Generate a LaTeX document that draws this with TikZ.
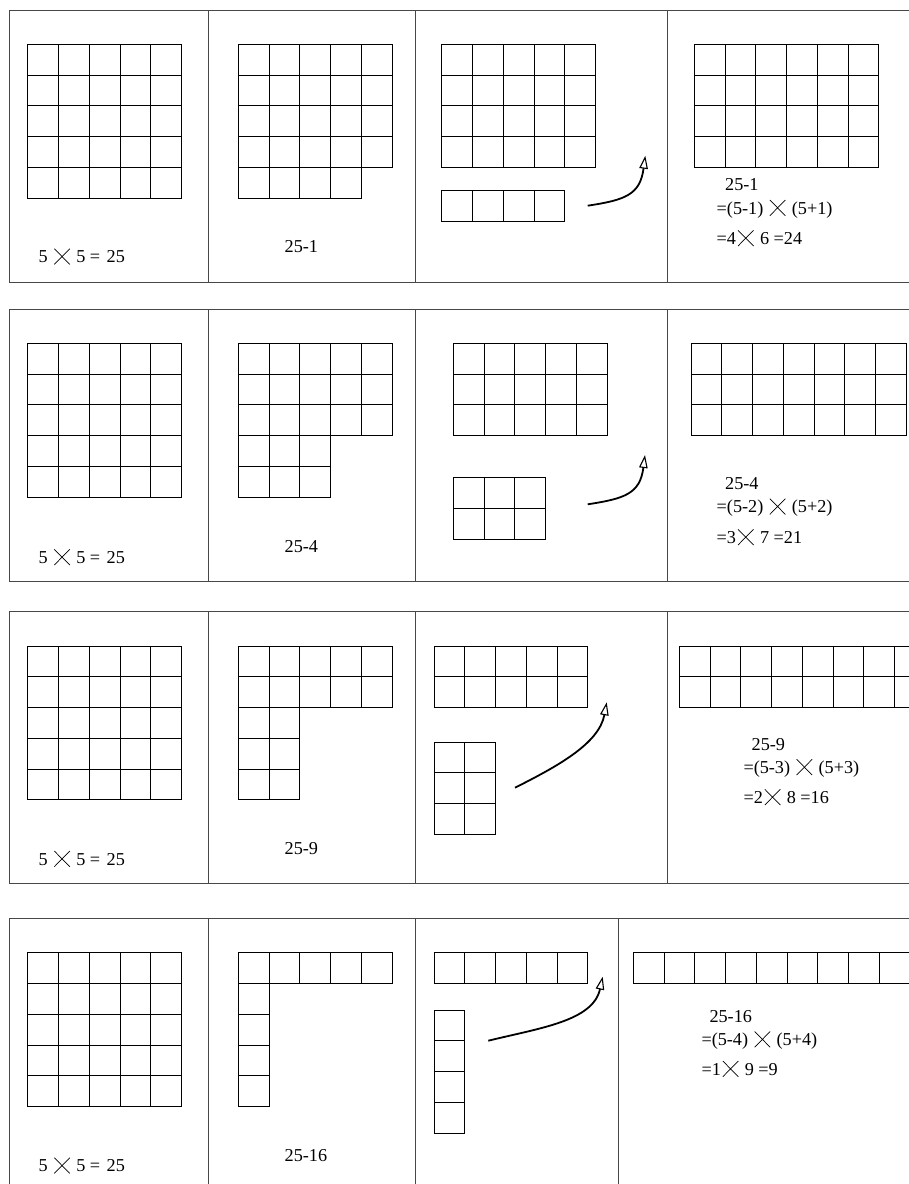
\documentclass[tikz,border=0pt]{standalone}
\usepackage{fontspec}
\setmainfont{Liberation Serif}
\usetikzlibrary{arrows.meta}
\newcommand{\crs}{\hspace{1.6pt}\tikz[baseline=0pt]{\draw[line width=0.7pt] (0pt,-1.7pt) -- (15.5pt,14pt) (0pt,14pt) -- (15.5pt,-1.7pt);}\hspace{1.6pt}}
\newcommand{\cellsz}{30.75}
\newcommand{\grid}[4]{\foreach \i in {1,...,#3}{\foreach \j in {1,...,#4}{\draw[cell] ({#1+(\i-1)*\cellsz},{#2+(\j-1)*\cellsz}) rectangle ++(\cellsz,\cellsz);}}}
\begin{document}
\begin{tikzpicture}[x=1pt,y=-1pt,
  frame/.style={draw=black!72, line width=0.9pt},
  cell/.style={draw=black, line width=0.85pt},
  arr/.style={line width=1.8pt, -{Triangle[open,length=13pt,width=8.5pt,line width=1.1pt]}},
  lbl/.style={anchor=base west, inner sep=0pt, font=\fontsize{18.2}{22}\selectfont}]
\useasboundingbox (0,0) rectangle (909,1184);
\clip (0,0) rectangle (909,1184);

% ---------- frames ----------
\draw[frame] (9,10) rectangle (915,282.3);
\draw[frame] (208,10) -- (208,282.3) (415,10) -- (415,282.3) (667.7,10) -- (667.7,282.3);
\draw[frame] (9,309) rectangle (915,581);
\draw[frame] (208,309) -- (208,581) (415,309) -- (415,581) (667.7,309) -- (667.7,581);
\draw[frame] (9,611.7) rectangle (915,883.7);
\draw[frame] (208,611.7) -- (208,883.7) (415,611.7) -- (415,883.7) (667.7,611.7) -- (667.7,883.7);
\draw[frame] (9,918.3) rectangle (915,1195);
\draw[frame] (208,918.3) -- (208,1195) (415,918.3) -- (415,1195) (618.3,918.3) -- (618.3,1195);

% ---------- row 1 ----------
\grid{27.7}{44.3}{5}{5}
\grid{238.3}{44.3}{5}{4}
\grid{238.3}{167.3}{4}{1}
\grid{441.7}{44.3}{5}{4}
\grid{441.7}{190.7}{4}{1}
\grid{694.3}{44.3}{6}{4}
\coordinate (a1s) at (587.7,205.7);
\coordinate (a1e) at (645.3,155.7);
\draw[arr] (a1s) .. controls (625,200) and (640,195) .. (a1e);
\node[lbl] (l1a) at (38.5,262.7) {5 \crs{} 5 = \hspace{2pt}25};
\node[lbl] (l1b) at (284.5,252.7) {25-1};
\node[lbl] (l1c) at (725,190.7) {25-1};
\node[lbl] (l1d) at (716.5,214) {=(5-1) \crs{} (5+1)};
\node[lbl] (l1e) at (716.5,244.3) {=4\crs{} 6 =24};

% ---------- row 2 ----------
\grid{27.7}{343.3}{5}{5}
\grid{238.3}{343.3}{5}{3}
\grid{238.3}{435.55}{3}{2}
\grid{453.3}{343.3}{5}{3}
\grid{453.3}{477.7}{3}{2}
\grid{691}{343.3}{7}{3}
\coordinate (a2s) at (587.7,504.3);
\coordinate (a2e) at (645,455);
\draw[arr] (a2s) .. controls (625,498.6) and (640,493.6) .. (a2e);
\node[lbl] (l2a) at (38.5,563.3) {5 \crs{} 5 = \hspace{2pt}25};
\node[lbl] (l2b) at (284.5,552.3) {25-4};
\node[lbl] (l2c) at (725,489.3) {25-4};
\node[lbl] (l2d) at (716.5,512.7) {=(5-2) \crs{} (5+2)};
\node[lbl] (l2e) at (716.5,543.3) {=3\crs{} 7 =21};

% ---------- row 3 ----------
\grid{27.7}{646}{5}{5}
\grid{238.3}{646}{5}{2}
\grid{238.3}{707.5}{2}{3}
\grid{434}{646}{5}{2}
\grid{434}{742}{2}{3}
\grid{679.3}{646}{8}{2}
\coordinate (a3s) at (515,787.7);
\coordinate (a3e) at (606.7,702.3);
\draw[arr] (a3s) .. controls (556,767) and (599,744) .. (a3e);
\node[lbl] (l3a) at (38.5,865) {5 \crs{} 5 = \hspace{2pt}25};
\node[lbl] (l3b) at (284.5,854) {25-9};
\node[lbl] (l3c) at (751.5,750) {25-9};
\node[lbl] (l3d) at (743.3,773.3) {=(5-3) \crs{} (5+3)};
\node[lbl] (l3e) at (743.3,803.3) {=2\crs{} 8 =16};

% ---------- row 4 ----------
\grid{27.7}{952.7}{5}{5}
\grid{238.3}{952.7}{5}{1}
\grid{238.3}{983.45}{1}{4}
\grid{434}{952.7}{5}{1}
\grid{434}{1010}{1}{4}
\grid{633.3}{952.7}{9}{1}
\coordinate (a4s) at (488.3,1040.7);
\coordinate (a4e) at (602.7,976.7);
\draw[arr] (a4s) .. controls (540,1028) and (593,1021) .. (a4e);
\node[lbl] (l4a) at (38.5,1171.7) {5 \crs{} 5 = \hspace{2pt}25};
\node[lbl] (l4b) at (284.5,1161) {25-16};
\node[lbl] (l4c) at (709.3,1022.3) {25-16};
\node[lbl] (l4d) at (701.3,1045.5) {=(5-4) \crs{} (5+4)};
\node[lbl] (l4e) at (701.3,1075) {=1\crs{} 9 =9};
\end{tikzpicture}
\end{document}
